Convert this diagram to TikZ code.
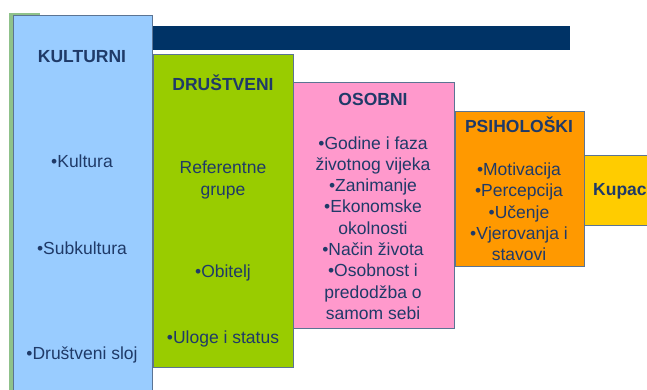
\documentclass[tikz,border=0pt]{standalone}
\usepackage{fontspec}
\setmainfont{Liberation Sans}
\usetikzlibrary{positioning}

\definecolor{navybar}{HTML}{003366}
\definecolor{txtblue}{HTML}{1F3A68}
\definecolor{edgegray}{HTML}{5B7493}
\definecolor{kultblue}{HTML}{99CCFF}
\definecolor{drusgreen}{HTML}{99CC00}
\definecolor{osobpink}{HTML}{FF99CC}
\definecolor{psihorange}{HTML}{FF9900}
\definecolor{kupyellow}{HTML}{FFCC00}
\definecolor{stripgreen}{HTML}{8FC28A}

\tikzset{
  factor/.style={draw=edgegray, line width=0.8pt, inner sep=0pt, outer sep=0pt, anchor=north west},
  title/.style={text=txtblue, font=\fontsize{17.5}{21.3}\selectfont\bfseries},
  item/.style={text=txtblue, font=\fontsize{17.5}{21.3}\selectfont, align=center},
}

\begin{document}
\begin{tikzpicture}[x=1pt,y=-1pt]
  \useasboundingbox (0,0) rectangle (647,390);
  \clip (0,0) rectangle (647,390);

  \fill[navybar] (9,26) rectangle (570,50) ;     %Top bar
  \fill[stripgreen] (9,13) rectangle (40,400) ;  %Strip behind first box

  %Factor boxes, left to right
  \node[factor, fill=kultblue, minimum width=139pt, minimum height=390pt] (kult) at (13,15) {};
  \node[factor, fill=drusgreen, minimum width=140pt, minimum height=313pt] (drus) at (153,54) {};
  \node[factor, fill=osobpink, minimum width=161pt, minimum height=246pt] (osob) at (293,82) {};
  \node[factor, fill=psihorange, minimum width=129pt, minimum height=155pt] (psih) at (455,111) {};
  \node[factor, fill=kupyellow, minimum width=80pt, minimum height=70pt] (kup) at (584,155) {};

  %Kulturni
  \node[title] (kulttitle) at (82,57) {KULTURNI};
  \node[item] (kulta) at (82,161) {•Kultura};
  \node[item] (kultb) at (82,248) {•Subkultura};
  \node[item] (kultc) at (82,355) {•Društveni sloj};

  %Drustveni
  \node[title] (drustitle) at (223,83) {DRUŠTVENI};
  \node[item] (drusa) at (223,180) {Referentne\\grupe};
  \node[item] (drusb) at (223,273) {•Obitelj};
  \node[item] (drusc) at (223,339) {•Uloge i status};

  %Osobni
  \node[title] (osobtitle) at (373,99) {OSOBNI};
  \node[item] (osoba) at (373,228) {•Godine i faza\\životnog vijeka\\•Zanimanje\\•Ekonomske\\okolnosti\\•Način života\\•Osobnost i\\predodžba o\\samom sebi};

  %Psiholoski
  \node[title] (psihtitle) at (519,125) {PSIHOLOŠKI};
  \node[item] (psiha) at (519,212) {•Motivacija\\•Percepcija\\•Učenje\\•Vjerovanja i\\stavovi};

  %Kupac
  \node[title, anchor=west, inner sep=0pt] (kuptitle) at (593,191) {Kupac};
\end{tikzpicture}
\end{document}
